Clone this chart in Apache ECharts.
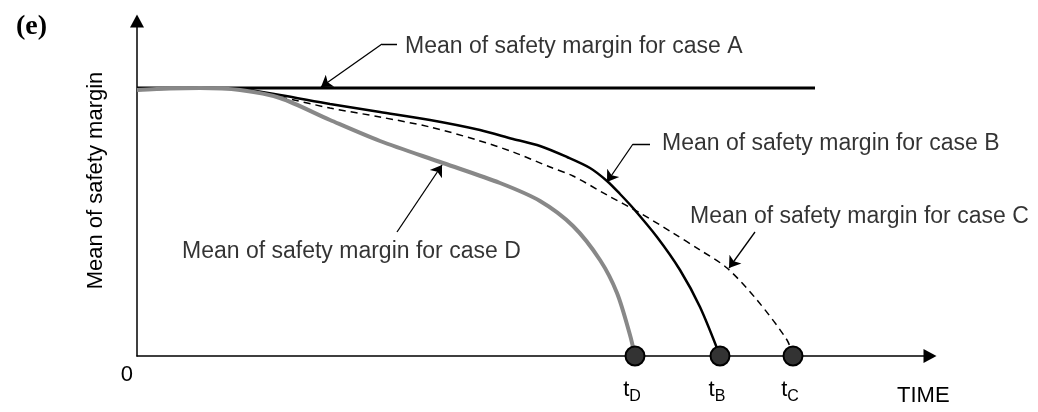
<!DOCTYPE html>
<html>
<head>
<meta charset="utf-8">
<script src="https://cdn.jsdelivr.net/npm/echarts@6/dist/echarts.min.js"></script>
<style>
  html, body { margin: 0; padding: 0; background: #fff; }
  #chart { width: 1038px; height: 412px; }
</style>
</head>
<body>
<div id="chart"></div>
<script>
// values (time / margin, arbitrary units)
const caseA = [[0, 268], [678, 268]];
const caseB = [[0, 266], [33, 267.5], [63, 268], [103, 267], [143, 261], [193, 252], [243, 244], [293, 236],
  [343, 226], [376, 217], [403, 210], [430, 199], [453, 188], [470, 175], [483, 162], [496, 148],
  [520, 119], [543, 86], [563, 49], [583, 0]];
const caseC = [[0, 266], [33, 267.5], [63, 268], [103, 266.5], [143, 259], [193, 248], [243, 239], [293, 229],
  [340, 216], [376, 204], [413, 189], [436, 180], [470, 161], [503, 143], [536, 123], [563, 106],
  [590, 88], [620, 56], [650, 16], [656, 0]];
const caseD = [[0, 266], [33, 267.5], [63, 268], [103, 266], [143, 258], [193, 236], [243, 215], [306, 193],
  [363, 173], [403, 155], [436, 130], [463, 96], [480, 63], [493, 21], [498, 0]];
const failTimes = [498, 583, 656];
const failNames = ['D', 'B', 'C'];
const noteTexts = ['Mean of safety margin for case A', 'Mean of safety margin for case B',
  'Mean of safety margin for case C', 'Mean of safety margin for case D'];

// where the notes and their leader arrows sit
const notePos = [[268, 309], [525, 212], [553, 139], [45, 104]];
const leaders = [
  [[260, 312], [245, 312], [184, 269]],
  [[513, 212], [496, 212], [470, 174]],
  [[618, 124], [592, 88]],
  [[260, 124], [305, 191]]
];

// split leaders: plain stubs + last segment carrying the arrow head
const stubs = [];
const heads = [];
leaders.forEach(pl => {
  for (let i = 0; i < pl.length - 1; i++) {
    const seg = { coords: [pl[i], pl[i + 1]] };
    if (i === pl.length - 2) heads.push(seg); else stubs.push(seg);
  }
});

const FONT = 'Liberation Sans, Arial, sans-serif';
const chart = echarts.init(document.getElementById('chart'));

chart.setOption({
  animation: false,
  backgroundColor: '#fff',
  title: {
    text: '(e)', left: 11, top: 8,
    textStyle: { fontFamily: 'Liberation Serif, Times New Roman, serif', fontWeight: 'bold', fontSize: 28, color: '#000' }
  },
  grid: { left: 137, right: 108, top: 21, bottom: 56, containLabel: false, outerBoundsMode: 'none' },
  xAxis: {
    type: 'value', min: 0, max: 793,
    splitLine: { show: false }, axisTick: { show: false },
    axisLine: { show: true, symbol: ['none', 'triangle'], symbolSize: [14, 13], lineStyle: { color: '#000', width: 1.5 } },
    axisLabel: {
      formatter: v => (v === 0 ? '0' : ''), align: 'right', margin: 8, padding: [0, 4, 0, 0],
      color: '#000', fontSize: 22, fontFamily: FONT
    }
  },
  yAxis: {
    type: 'value', min: 0, max: 335,
    name: 'Mean of safety margin', nameLocation: 'middle', nameGap: 30, nameRotate: 90, nameMoveOverlap: false,
    nameTextStyle: { color: '#000', fontSize: 22, fontFamily: FONT, padding: [0, 0, 0, 16] },
    splitLine: { show: false }, axisTick: { show: false }, axisLabel: { show: false },
    axisLine: { show: true, symbol: ['none', 'triangle'], symbolSize: [14, 13], lineStyle: { color: '#000', width: 1.5 } }
  },
  graphic: [{
    type: 'text', left: 897, top: 385, silent: true,
    style: { text: 'TIME', fill: '#000', font: '22px ' + FONT }
  }],
  series: [
    { name: 'A', type: 'line', data: caseA, showSymbol: false, lineStyle: { color: '#000', width: 3 } },
    { name: 'C', type: 'line', data: caseC, smooth: 0.3, showSymbol: false, lineStyle: { color: '#000', width: 1.5, type: [7, 5] } },
    { name: 'B', type: 'line', data: caseB, smooth: 0.3, showSymbol: false, lineStyle: { color: '#000', width: 2.5 } },
    { name: 'D', type: 'line', data: caseD, smooth: 0.3, showSymbol: false, lineStyle: { color: '#888', width: 4 } },
    {
      type: 'lines', coordinateSystem: 'cartesian2d', symbol: 'none',
      lineStyle: { color: '#000', width: 1.3, opacity: 1, curveness: 0 },
      data: stubs, z: 5
    },
    {
      type: 'lines', coordinateSystem: 'cartesian2d',
      symbol: ['none', 'arrow'], symbolSize: 11,
      lineStyle: { color: '#000', width: 1.3, opacity: 1, curveness: 0 },
      data: heads, z: 5
    },
    {
      type: 'scatter', clip: false, symbolSize: 19, z: 6,
      itemStyle: { color: '#333', borderColor: '#000', borderWidth: 2, opacity: 1 },
      data: failTimes.map((t, i) => ({ value: [t, 0], name: failNames[i] })),
      label: {
        show: true, position: 'bottom', distance: 8, offset: [-3, 0],
        formatter: p => '{t|t}{s|' + p.name + '}',
        rich: {
          t: { fontSize: 22, fontFamily: FONT, color: '#000', lineHeight: 26, verticalAlign: 'bottom' },
          s: { fontSize: 16, fontFamily: FONT, color: '#000', lineHeight: 26, verticalAlign: 'bottom', padding: [0, 0, -4, 0] }
        }
      }
    },
    {
      type: 'scatter', clip: false, symbolSize: 0, silent: true, z: 6,
      data: noteTexts.map((s, i) => ({ value: notePos[i], name: s })),
      label: { show: true, position: 'right', distance: 0, formatter: p => p.name, color: '#000', fontSize: 23, fontFamily: FONT }
    }
  ]
});
</script>
</body>
</html>
